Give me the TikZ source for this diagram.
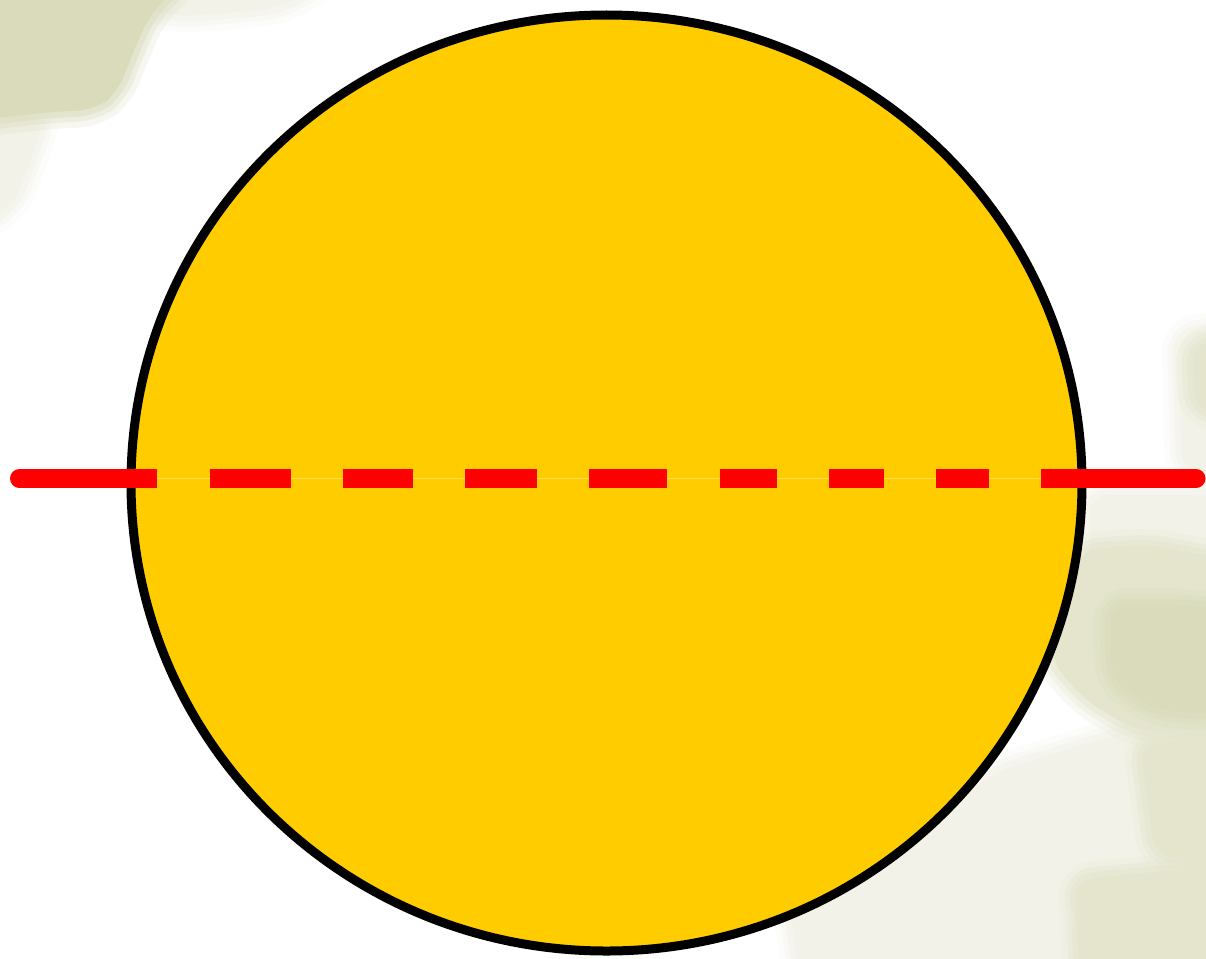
\documentclass[tikz,border=0pt]{standalone}
\usetikzlibrary{shapes.geometric}
\definecolor{sunyellow}{HTML}{FFCC00}
\definecolor{dashred}{HTML}{FF0000}
\definecolor{blobdark}{HTML}{D9DBBA}
\definecolor{blobmid}{HTML}{E4E5CC}
\definecolor{bloblight}{HTML}{F2F2E8}
\definecolor{thinline}{HTML}{FFDA55}
\tikzset{
  blob/.style={fill=#1, rounded corners=18pt, line join=round,
    preaction={draw=#1, line width=34pt, draw opacity=0.2},
    preaction={draw=#1, line width=22pt, draw opacity=0.3},
    preaction={draw=#1, line width=12pt, draw opacity=0.45}},
  redseg/.style={draw=dashred, line width=19pt, line cap=butt},
  sunshape/.style={ellipse, draw=black, fill=sunyellow, line width=9pt, inner sep=0pt,
    minimum width=951pt, minimum height=936pt}
}
\begin{document}
\begin{tikzpicture}[x=1pt,y=-1pt]
\useasboundingbox (0,0) rectangle (1206,958);
\fill[white] (0,0) rectangle (1206,958);
% background blotches
\begin{scope}
\clip (0,0) rectangle (1206,958);
\path[blob=bloblight] (120,-20) -- (330,-20) -- (280,8) -- (190,16) -- (140,12) -- cycle;
\path[blob=bloblight] (-20,110) -- (45,118) -- (30,160) -- (14,205) -- (-20,225) -- cycle;
\path[blob=blobdark] (-20,-20) -- (185,-20) -- (150,14) -- (132,55) -- (118,92) -- (95,110) -- (50,112) -- (-20,120) -- cycle;
\path[blob=bloblight] (1178,335) -- (1230,325) -- (1230,475) -- (1182,470) -- cycle;
\path[blob=blobmid] (1192,345) -- (1230,340) -- (1230,415) -- (1195,410) -- cycle;
\path[blob=bloblight] (1090,495) -- (1230,495) -- (1230,600) -- (1090,600) -- cycle;
\path[blob=bloblight] (790,910) -- (1000,770) -- (1230,700) -- (1230,980) -- (800,980) -- cycle;
\path[blob=blobmid] (1080,550) -- (1150,545) -- (1230,560) -- (1230,735) -- (1135,730) -- (1085,700) -- (1050,660) -- cycle;
\path[blob=blobdark] (1110,605) -- (1180,605) -- (1230,610) -- (1230,715) -- (1155,710) -- (1112,680) -- cycle;
\path[blob=blobmid] (1140,745) -- (1230,735) -- (1230,865) -- (1155,855) -- cycle;
\path[blob=blobmid] (1075,880) -- (1230,865) -- (1230,980) -- (1080,980) -- cycle;
\path[blob=bloblight] (870,935) -- (1000,890) -- (1060,905) -- (1045,980) -- (860,980) -- cycle;
\end{scope}
% the sun
\node[sunshape] (sun) at (606.5,483) {};
% dashed red line
\coordinate (lend) at (19.5,478.5);
\coordinate (rend) at (1196,478.5);
\draw[thinline, line width=1.2pt] (lend) -- (rend);
\draw[redseg] (lend) -- (157,478.5);
\draw[redseg] (209.5,478.5) -- (290.5,478.5);
\draw[redseg] (342.5,478.5) -- (412.5,478.5);
\draw[redseg] (464.5,478.5) -- (536.5,478.5);
\draw[redseg] (589,478.5) -- (667,478.5);
\draw[redseg] (720,478.5) -- (777,478.5);
\draw[redseg] (829,478.5) -- (884,478.5);
\draw[redseg] (936,478.5) -- (989,478.5);
\draw[redseg] (1041,478.5) -- (rend);
\fill[dashred] (lend) circle (9.5);
\fill[dashred] (rend) circle (9.5);
\end{tikzpicture}
\end{document}
